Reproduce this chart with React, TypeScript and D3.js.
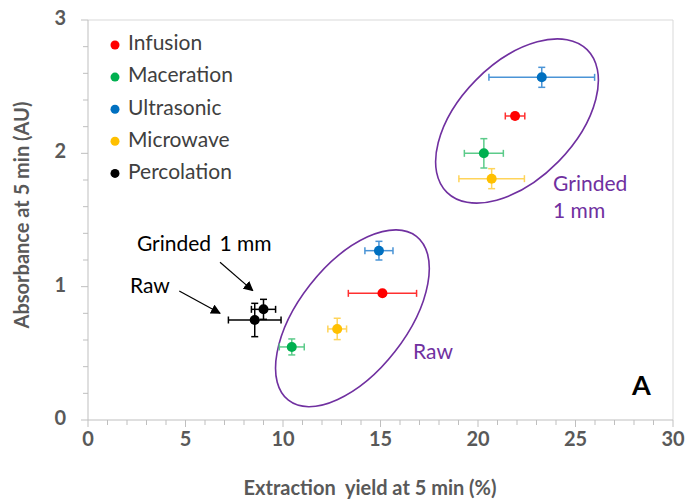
import React from "react";
import * as d3 from "d3";

const methods = ["Infusion", "Maceration", "Ultrasonic", "Microwave", "Percolation"];
const colors = ["#FF0000", "#00B050", "#0070C0", "#FFC000", "#000000"];
const errColors = ["#FF3030", "#5CCB8A", "#4A94D6", "#FFD45A", "#000000"];

// Raw samples
const rawX = [15.1, 10.45, 14.92, 12.78, 8.55];
const rawY = [0.95, 0.548, 1.27, 0.683, 0.75];
const rawXErr = [1.75, 0.64, 0.72, 0.48, 1.35];
const rawYErr = [0.02, 0.06, 0.07, 0.08, 0.125];

// Grinded 1 mm samples
const grindX = [21.9, 20.3, 23.27, 20.7, 9.0];
const grindY = [2.28, 2.0, 2.57, 1.81, 0.83];
const grindXErr = [0.5, 1.0, 2.71, 1.68, 0.62];
const grindYErr = [0.02, 0.11, 0.075, 0.075, 0.075];

const xTicks = [0, 5, 10, 15, 20, 25, 30];
const yTicks = [0, 1, 2, 3];

const W = 686;
const H = 501;

export default function App() {
  const x = d3.scaleLinear().domain([0, 30]).range([88, 673]);
  const y = d3.scaleLinear().domain([0, 3]).range([420, 20]);

  const xMinor = d3.range(0, 31, 1);
  const yMinor = d3.range(0, 3.0001, 0.2);

  const points: any[] = [];
  methods.forEach((m, i) => {
    points.push({ x: rawX[i], y: rawY[i], xe: rawXErr[i], ye: rawYErr[i], c: colors[i], ec: errColors[i], k: "r" + i });
    points.push({ x: grindX[i], y: grindY[i], xe: grindXErr[i], ye: grindYErr[i], c: colors[i], ec: errColors[i], k: "g" + i });
  });

  const ellipses = [
    { cx: 22.0, cy: 2.2425, rx: 100, ry: 58, angle: -45.5 },
    { cx: 13.56, cy: 0.763, rx: 104, ry: 54, angle: -52 },
  ];

  const purple = "#7030A0";
  const font = "Lato, 'Open Sans', sans-serif";
  const cap = 3.5;

  const arrows = [
    { x1: 6.77, y1: 1.183, x2: 8.45, y2: 0.97 },
    { x1: 4.68, y1: 0.967, x2: 6.77, y2: 0.8 },
  ];

  return (
    <div style={{ position: "absolute", left: 0, top: 0 }}>
      <svg width={W} height={H} style={{ display: "block", background: "#fff" }}>
        <defs>
          <marker id="ah" viewBox="0 0 10 10" refX="9" refY="5" markerWidth="10" markerHeight="10" markerUnits="userSpaceOnUse" orient="auto">
            <path d="M0,0 L10,5 L0,10 z" fill="#000" />
          </marker>
        </defs>
        {/* plot border */}
        <line x1={x(0)} x2={x(30)} y1={y(3)} y2={y(3)} stroke="#D9D9D9" strokeWidth={1} />
        <line x1={x(30)} x2={x(30)} y1={y(3)} y2={y(0)} stroke="#D9D9D9" strokeWidth={1} />
        {/* axes */}
        <line x1={x(0)} x2={x(30)} y1={y(0)} y2={y(0)} stroke="#BFBFBF" strokeWidth={1} />
        <line x1={x(0)} x2={x(0)} y1={y(3)} y2={y(0)} stroke="#BFBFBF" strokeWidth={1} />
        {xMinor.map((v) => (
          <line key={"xm" + v} x1={x(v)} x2={x(v)} y1={y(0)} y2={y(0) + (v % 5 === 0 ? 7 : 5)} stroke="#BFBFBF" />
        ))}
        {yMinor.map((v, i) => (
          <line key={"ym" + i} x1={x(0) - (i % 5 === 0 ? 7 : 5)} x2={x(0)} y1={y(v)} y2={y(v)} stroke="#BFBFBF" />
        ))}
        {xTicks.map((v) => (
          <text key={"xt" + v} x={x(v)} y={y(0) + 21} textAnchor="middle" dominantBaseline="middle" fontFamily={font} fontWeight="bold" fontSize={20} fill="#595959">
            {v}
          </text>
        ))}
        {yTicks.map((v) => (
          <text key={"yt" + v} x={66} y={y(v)} textAnchor="end" dominantBaseline="middle" fontFamily={font} fontWeight="bold" fontSize={20} fill="#595959">
            {v}
          </text>
        ))}
        <text x={370} y={490} textAnchor="middle" dominantBaseline="middle" fontFamily={font} fontWeight="bold" fontSize={20} fill="#595959" style={{ whiteSpace: "pre" }}>
          {"Extraction  yield at 5 min (%)"}
        </text>
        <text transform="translate(24,215) rotate(-90)" textAnchor="middle" dominantBaseline="middle" fontFamily={font} fontWeight="bold" fontSize={20} fill="#595959">
          Absorbance at 5 min (AU)
        </text>

        {/* ellipses */}
        {ellipses.map((e, i) => (
          <ellipse key={"el" + i} cx={0} cy={0} rx={e.rx} ry={e.ry} fill="none" stroke={purple} strokeWidth={1.6}
            transform={`translate(${x(e.cx)},${y(e.cy)}) rotate(${e.angle})`} />
        ))}

        {/* error bars and points */}
        {points.map((p) => (
          <g key={p.k}>
            <line x1={x(p.x - p.xe)} x2={x(p.x + p.xe)} y1={y(p.y)} y2={y(p.y)} stroke={p.ec} strokeWidth={1.5} />
            <line x1={x(p.x - p.xe)} x2={x(p.x - p.xe)} y1={y(p.y) - cap} y2={y(p.y) + cap} stroke={p.ec} strokeWidth={1.5} />
            <line x1={x(p.x + p.xe)} x2={x(p.x + p.xe)} y1={y(p.y) - cap} y2={y(p.y) + cap} stroke={p.ec} strokeWidth={1.5} />
            <line x1={x(p.x)} x2={x(p.x)} y1={y(p.y - p.ye)} y2={y(p.y + p.ye)} stroke={p.ec} strokeWidth={1.5} />
            <line x1={x(p.x) - cap} x2={x(p.x) + cap} y1={y(p.y - p.ye)} y2={y(p.y - p.ye)} stroke={p.ec} strokeWidth={1.5} />
            <line x1={x(p.x) - cap} x2={x(p.x) + cap} y1={y(p.y + p.ye)} y2={y(p.y + p.ye)} stroke={p.ec} strokeWidth={1.5} />
            <circle cx={x(p.x)} cy={y(p.y)} r={5} fill={p.c} />
          </g>
        ))}

        {/* legend */}
        {methods.map((m, i) => (
          <g key={"lg" + m} transform={`translate(115,${45 + i * 32.1})`}>
            <circle cx={0} cy={0} r={4.5} fill={colors[i]} />
            <text x={13} y={0} dominantBaseline="middle" fontFamily={font} fontSize={21} fill="#404040">
              {m}
            </text>
          </g>
        ))}

        {/* annotations */}
        <text x={x(23.85)} y={y(1.7175)} fontFamily={font} fontSize={21} fill={purple}>Grinded</text>
        <text x={x(23.85)} y={y(1.515)} fontFamily={font} fontSize={21} fill={purple}>1 mm</text>
        <text x={x(16.67)} y={y(0.4575)} fontFamily={font} fontSize={21} fill={purple}>Raw</text>
        <text x={x(2.51)} y={y(1.2675)} fontFamily={font} fontSize={21} fill="#000">Grinded<tspan dx={3}> 1 mm</tspan></text>
        <text x={x(2.15)} y={y(0.9525)} fontFamily={font} fontSize={21} fill="#000">Raw</text>
        {arrows.map((a, i) => (
          <line key={"ar" + i} x1={x(a.x1)} y1={y(a.y1)} x2={x(a.x2)} y2={y(a.y2)} stroke="#000" strokeWidth={1.2} markerEnd="url(#ah)" />
        ))}
        <text x={x(27.9)} y={y(0.1875)} fontFamily={font} fontWeight="bold" fontSize={27} fill="#000">A</text>
      </svg>
    </div>
  );
}
